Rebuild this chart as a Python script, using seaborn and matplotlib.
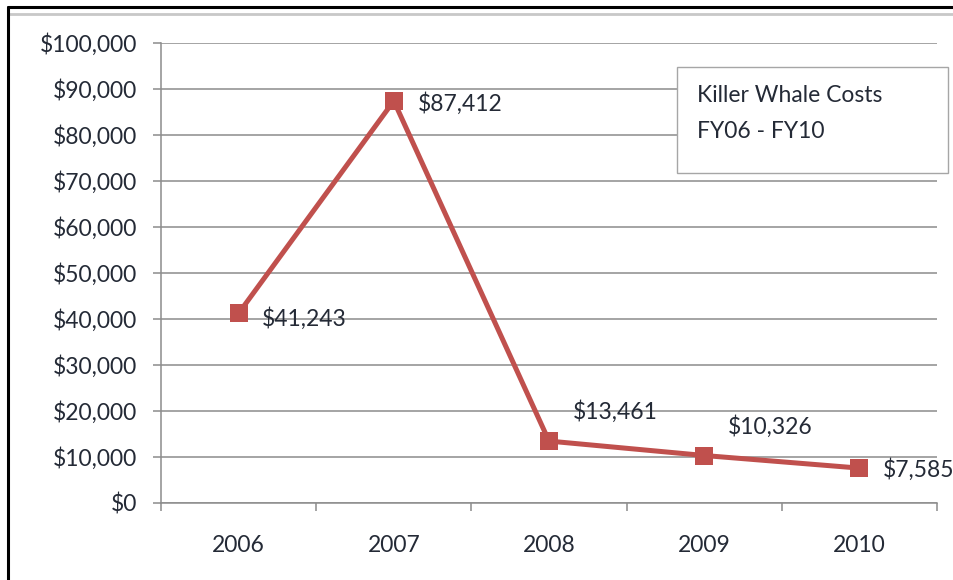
import matplotlib
matplotlib.use("Agg")
import matplotlib.pyplot as plt
from matplotlib.lines import Line2D
from matplotlib.patches import Rectangle
import seaborn as sns
import pandas as pd

# Annual killer whale costs, FY06 - FY10
years = ["2006", "2007", "2008", "2009", "2010"]
costs = [41243, 87412, 13461, 10326, 7585]
y_ticks = [0, 10000, 20000, 30000, 40000, 50000, 60000, 70000, 80000, 90000, 100000]
title_lines = ["Killer Whale Costs", "FY06 - FY10"]

df = pd.DataFrame({"year": years, "cost": costs})

sns.set_theme(style="white")
plt.rcParams["font.family"] = ["Lato", "DejaVu Sans"]

TEXT = "#242a36"
GRID = "#8c8c8c"
RED = "#C0504D"
FS = 16.5

fig = plt.figure(figsize=(9.54, 5.8), dpi=100)
ax = fig.add_axes([161 / 954, 1 - 503 / 580, (937 - 161) / 954, (503 - 43) / 580])

sns.lineplot(data=df, x="year", y="cost", ax=ax, color=RED, linewidth=3.6,
             marker="s", markersize=13.5, markeredgewidth=0, zorder=5, sort=False)

ax.set_xlim(-0.5, len(years) - 0.5)
ax.set_ylim(0, 100000)
ax.set_xlabel("")
ax.set_ylabel("")

ax.set_yticks(y_ticks)
ax.set_yticklabels([f"${v:,}" for v in y_ticks])
ax.set_xticks(range(len(years)))
ax.set_xticklabels(years)
ax.set_xticks([i - 0.5 for i in range(len(years) + 1)], minor=True)

ax.yaxis.grid(True, color=GRID, linewidth=1.1)
ax.xaxis.grid(False)
for side in ("top", "right"):
    ax.spines[side].set_visible(False)
for side in ("left", "bottom"):
    ax.spines[side].set_color(GRID)
    ax.spines[side].set_linewidth(1.1)

ax.tick_params(axis="y", which="major", left=True, length=6, width=1.1,
               color=GRID, pad=11, labelsize=FS, labelcolor=TEXT)
ax.tick_params(axis="x", which="major", bottom=False, length=0, pad=23,
               labelsize=FS, labelcolor=TEXT)
ax.tick_params(axis="x", which="minor", bottom=True, length=6, width=1.1,
               color=GRID)

# value labels beside each marker
offsets = [(17, -4), (17, -2), (17, 21), (17, 21), (17, -1)]
for i, (v, off) in enumerate(zip(costs, offsets)):
    ax.annotate(f"${v:,}", xy=(i, v), xytext=off, textcoords="offset points",
                ha="left", va="center", fontsize=FS, color=TEXT,
                annotation_clip=False, zorder=6)

# title box inside the plot area
fig.add_artist(Rectangle((677 / 954, 1 - 173 / 580), (948 - 677) / 954,
                         (173 - 67) / 580, transform=fig.transFigure,
                         facecolor="white", edgecolor="#a6a6a6",
                         linewidth=1.0, zorder=10))
for line, ypx in zip(title_lines, (96, 132)):
    fig.text(697 / 954, 1 - ypx / 580, line, ha="left", va="center",
             fontsize=FS, color=TEXT, zorder=11)

# outer frame and sheet strip
fig.add_artist(Line2D([8 / 954, 1], [1 - 14 / 580, 1 - 14 / 580],
                      color="#c8c8c8", linewidth=2.0))
fig.add_artist(Line2D([8 / 954, 1], [1 - 7 / 580, 1 - 7 / 580],
                      color="black", linewidth=2.2))
fig.add_artist(Line2D([8 / 954, 8 / 954], [0, 1 - 7 / 580],
                      color="black", linewidth=2.2))

fig.savefig("out.png", dpi=100, facecolor="white")
